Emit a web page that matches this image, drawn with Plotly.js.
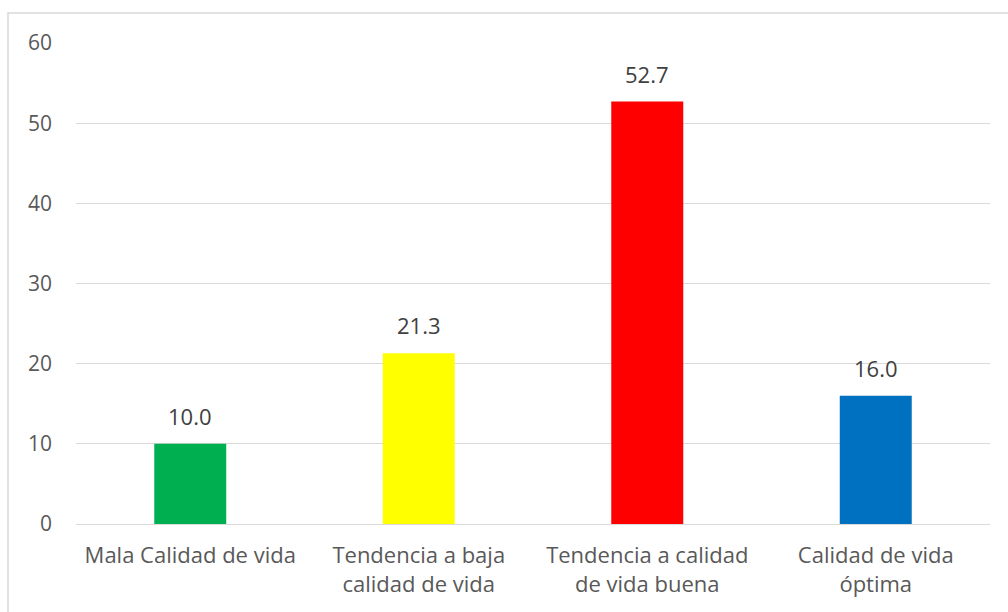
<!DOCTYPE html>
<html>
<head>
<meta charset="utf-8">
<script src="https://cdn.plot.ly/plotly-3.0.1.min.js"></script>
<style>
html,body{margin:0;padding:0;background:#fff;}
#chart{width:1008px;height:612px;}
</style>
</head>
<body>
<div id="chart"></div>
<script>
const categories = ["Mala Calidad de vida", "Tendencia a baja<br>calidad de vida", "Tendencia a calidad<br>de vida buena", "Calidad de vida<br>óptima"];
const values = [10.0, 21.3, 52.7, 16.0];
const colors = ["#00b050", "#ffff00", "#ff0000", "#0070c0"];
const yTicks = [0, 10, 20, 30, 40, 50, 60];

const trace = {
  type: "bar",
  x: categories,
  y: values,
  marker: {color: colors, line: {width: 0}},
  hoverinfo: "none"
};

const annotations = categories.map((c, i) => ({
  x: c, y: values[i], xref: "x", yref: "y",
  text: values[i].toFixed(1),
  showarrow: false,
  yanchor: "bottom",
  yshift: 11,
  font: {family: "Open Sans, sans-serif", size: 22, color: "#404040"}
}));

const layout = {
  width: 1008,
  height: 612,
  margin: {l: 76, r: 18, t: 43, b: 88},
  paper_bgcolor: "#ffffff",
  plot_bgcolor: "#ffffff",
  showlegend: false,
  bargap: 0.685,
  font: {family: "Open Sans, sans-serif", size: 22, color: "#595959"},
  xaxis: {
    type: "category",
    showgrid: false,
    showline: false,
    ticks: "",
    ticklabelstandoff: 16,
    tickfont: {size: 22, color: "#595959"},
    zeroline: false
  },
  yaxis: {
    range: [0, 60],
    tickvals: yTicks,
    ticktext: yTicks.map(String),
    showgrid: true,
    gridcolor: "#d9d9d9",
    gridwidth: 1,
    zeroline: true,
    zerolinecolor: "#d9d9d9",
    zerolinewidth: 1,
    showline: false,
    ticks: "",
    ticklabelstandoff: 23,
    tickfont: {size: 21, color: "#595959"}
  },
  annotations: annotations,
  shapes: [{
    type: "rect", xref: "paper", yref: "paper",
    x0: -0.0744, x1: 1.2, y0: -0.3, y1: 1.0624,
    line: {color: "#d9d9d9", width: 1.5},
    fillcolor: "rgba(0,0,0,0)",
    layer: "below"
  }]
};

Plotly.newPlot("chart", [trace], layout, {displayModeBar: false, staticPlot: true});
</script>
</body>
</html>
